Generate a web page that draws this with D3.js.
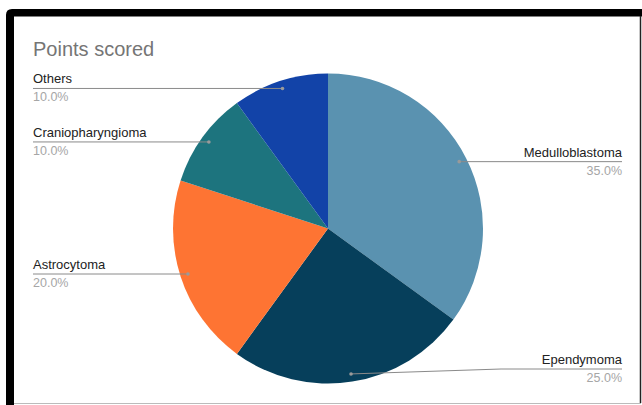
<!DOCTYPE html>
<html>
<head>
<meta charset="utf-8">
<script src="https://cdn.jsdelivr.net/npm/d3@7"></script>
<style>
  body { margin: 0; background: #fff; }
  svg { display: block; font-family: "Liberation Sans", Arial, sans-serif; }
</style>
</head>
<body>
<div id="chart"></div>
<script>
var title = "Points scored";
var categories = ["Medulloblastoma", "Ependymoma", "Astrocytoma", "Craniopharyngioma", "Others"];
var values = [35, 25, 20, 10, 10];
var colors = ["#5a92b0", "#063f5b", "#fe7433", "#1d747e", "#1243a8"];

var W = 642, H = 405,
    cx = 328, cy = 228.5, r = 155,
    leftX = 33, rightX = 622, bottomLimit = 369;

var svg = d3.select("#chart").append("svg")
    .attr("width", W)
    .attr("height", H);

// frame
svg.append("rect").attr("x", 0).attr("y", 0).attr("width", W).attr("height", H).attr("fill", "#fff");
svg.append("path")
    .attr("d", "M6,405 L6,15 Q6,9 12,9 L642,9 L642,16.5 L14,16.5 L14,405 Z")
    .attr("fill", "#000");
svg.append("line").attr("x1", 640.5).attr("x2", 640.5).attr("y1", 16).attr("y2", 403)
    .attr("stroke", "#222").attr("stroke-width", 1.5);
svg.append("line").attr("x1", 14).attr("x2", 641).attr("y1", 403.5).attr("y2", 403.5)
    .attr("stroke", "#bbb").attr("stroke-width", 1);

svg.append("text")
    .attr("x", 33).attr("y", 56)
    .attr("font-size", 20)
    .attr("fill", "#757575")
    .text(title);

var total = d3.sum(values);
var data = categories.map(function(c, i) { return {name: c, value: values[i], color: colors[i]}; });

var pie = d3.pie().sort(null).value(function(d) { return d.value; });
var arc = d3.arc().innerRadius(0).outerRadius(r);

var g = svg.append("g").attr("transform", "translate(" + cx + "," + cy + ")");

var arcs = pie(data);

g.selectAll("path.slice")
    .data(arcs)
  .enter().append("path")
    .attr("class", "slice")
    .attr("d", arc)
    .attr("fill", function(d) { return d.data.color; });

var fmt = d3.format(".1f");

arcs.forEach(function(d) {
  var a = (d.startAngle + d.endAngle) / 2;
  var px = cx + Math.sin(a) * r * 0.95,
      py = cy - Math.cos(a) * r * 0.95;
  var right = Math.sin(a) > 0;
  var ly = Math.min(py, bottomLimit);
  var endX = right ? rightX : leftX;
  var pts = [[px, py]];
  if (ly !== py) pts.push([px + 150, ly]);
  pts.push([endX, ly]);

  svg.append("path")
      .attr("d", d3.line()(pts))
      .attr("fill", "none")
      .attr("stroke", "#8a8a8a")
      .attr("stroke-width", 1);
  svg.append("circle")
      .attr("cx", px).attr("cy", py).attr("r", 1.8)
      .attr("fill", "#9a9a9a");

  svg.append("text")
      .attr("x", endX).attr("y", ly - 5)
      .attr("text-anchor", right ? "end" : "start")
      .attr("font-size", 13)
      .attr("fill", "#222")
      .text(d.data.name);
  svg.append("text")
      .attr("x", endX).attr("y", ly + 13)
      .attr("text-anchor", right ? "end" : "start")
      .attr("font-size", 12.5)
      .attr("fill", "#a6a6a6")
      .text(fmt(d.data.value / total * 100) + "%");
});
</script>
</body>
</html>
